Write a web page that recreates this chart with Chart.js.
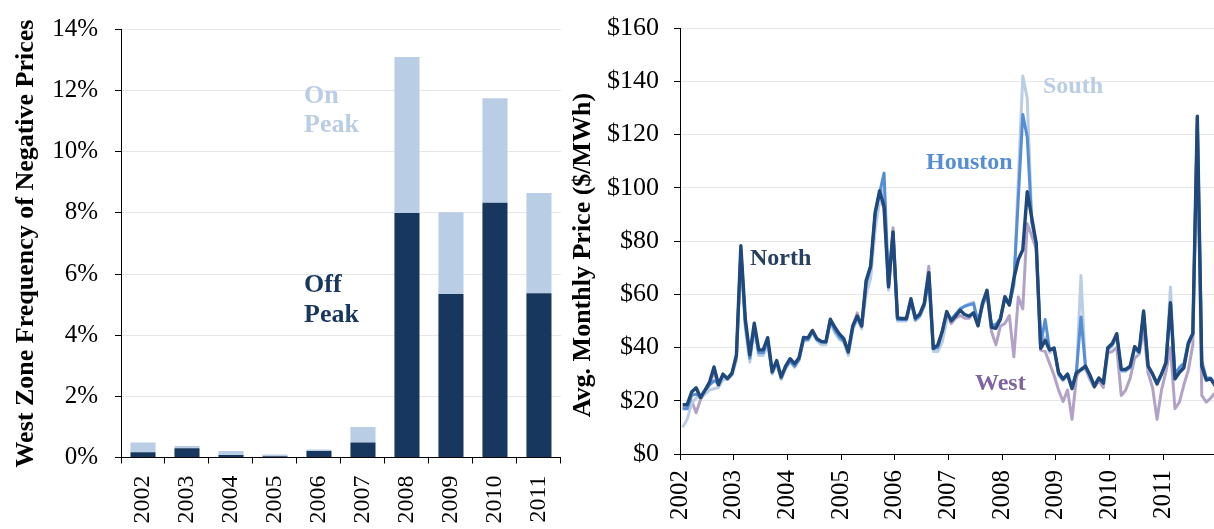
<!DOCTYPE html>
<html lang="en">
<head>
<meta charset="UTF-8">
<title>West Zone Negative Prices and Zonal Monthly Prices</title>
<script src="https://cdn.jsdelivr.net/npm/chart.js"></script>
<style>
    body {
        margin: 0;
        background: #fff;
        width: 1214px;
        height: 529px;
        overflow: hidden;
        position: relative;
    }

    .panel {
        position: absolute;
        top: 0;
        height: 529px;
    }

    #leftPanel { left: 0; width: 580px; }
    #rightPanel { left: 565px; width: 655px; }
</style>
</head>
<body>
<div class="panel" id="leftPanel"><canvas id="negChart"></canvas></div>
<div class="panel" id="rightPanel"><canvas id="priceChart"></canvas></div>

<script>
// Left panel: share of hours with negative prices in the West zone (%)
const barYears = ['2002', '2003', '2004', '2005', '2006', '2007', '2008', '2009', '2010', '2011'];
const offPeak = [0.17, 0.30, 0.08, 0.04, 0.21, 0.49, 8.00, 5.35, 8.33, 5.37];
const onPeak = [0.32, 0.08, 0.13, 0.06, 0.05, 0.51, 5.10, 2.67, 3.42, 3.28];

// Right panel: average monthly price by zone ($/MWh), Jan 2002 - Dec 2011
const priceYears = ['2002', '2003', '2004', '2005', '2006', '2007', '2008', '2009', '2010', '2011'];
const north = [
    18.5, 18.5, 23.3, 24.9, 21.2, 24.0, 27.0, 32.7, 26.0, 30.0, 28.3, 30.2,
    37.1, 78.2, 50.6, 37.3, 49.1, 39.1, 39.1, 43.7, 31.0, 35.1, 29.0, 33.0,
    35.8, 33.9, 36.1, 43.8, 43.6, 46.4, 43.3, 42.3, 42.1, 50.6, 47.6, 45.1,
    43.3, 38.4, 48.1, 51.8, 48.1, 65.2, 70.6, 90.6, 98.8, 93.0, 62.8, 83.4,
    51.1, 50.9, 50.9, 58.3, 51.1, 52.6, 56.6, 68.1, 39.7, 40.9, 46.0, 53.5,
    50.0, 51.8, 54.0, 52.4, 51.8, 53.0, 48.2, 56.7, 61.5, 47.6, 47.2, 50.6,
    59.1, 56.0, 65.8, 73.0, 76.7, 98.5, 88.8, 79.1, 39.7, 42.7, 39.1, 39.7,
    30.6, 28.2, 30.0, 24.6, 30.6, 31.6, 33.0, 29.7, 25.4, 28.5, 26.6, 39.9,
    41.5, 45.2, 31.8, 31.8, 33.0, 40.3, 38.5, 53.7, 33.0, 30.1, 26.4, 30.1,
    34.2, 56.7, 28.2, 30.6, 32.4, 41.5, 45.2, 126.9, 33.0, 27.8, 28.2, 25.7
];
const houston = [
    17.0, 17.0, 22.0, 22.5, 21.5, 24.0, 26.0, 27.5, 26.5, 29.5, 28.5, 30.5,
    36.5, 76.0, 49.0, 36.0, 48.0, 38.0, 38.0, 42.5, 30.5, 34.5, 28.5, 32.5,
    35.0, 33.0, 35.5, 43.0, 43.0, 46.0, 43.0, 42.0, 42.0, 50.0, 46.5, 44.0,
    42.5, 38.0, 47.5, 51.5, 48.0, 64.0, 70.0, 90.0, 98.0, 105.5, 63.0, 83.0,
    50.5, 50.5, 50.5, 57.5, 50.5, 52.0, 56.0, 67.0, 39.5, 40.0, 46.0, 53.0,
    50.5, 52.5, 54.5, 55.5, 56.0, 56.5, 49.5, 56.0, 60.5, 48.5, 48.5, 51.0,
    58.5, 56.0, 64.0, 96.0, 127.5, 119.0, 87.0, 79.0, 41.0, 50.5, 39.0, 40.0,
    30.0, 28.0, 30.0, 25.0, 31.0, 51.5, 33.0, 29.0, 26.0, 28.5, 27.0, 39.5,
    41.0, 44.5, 31.5, 31.5, 32.5, 40.0, 38.0, 53.0, 33.0, 30.0, 26.5, 30.0,
    34.5, 57.0, 30.0, 32.5, 34.0, 42.0, 45.5, 126.0, 35.0, 28.5, 28.5, 26.0
];
const south = [
    10.0, 13.0, 19.0, 21.0, 21.5, 22.5, 24.0, 24.5, 25.0, 28.0, 28.0, 29.5,
    35.0, 74.0, 47.0, 34.5, 46.5, 37.0, 37.0, 41.5, 30.0, 34.0, 28.0, 32.0,
    34.5, 32.5, 35.0, 42.5, 42.5, 45.5, 42.5, 41.0, 41.0, 49.5, 45.5, 43.0,
    42.0, 37.0, 46.5, 50.5, 47.0, 60.0, 66.0, 84.0, 95.0, 100.0, 61.5, 82.0,
    50.0, 50.0, 50.0, 57.0, 50.0, 51.5, 55.5, 66.0, 38.5, 38.5, 42.0, 50.0,
    50.5, 52.5, 54.5, 55.5, 56.5, 57.0, 49.0, 55.5, 60.0, 48.0, 48.5, 51.0,
    58.5, 56.0, 63.0, 103.0, 142.0, 133.5, 88.0, 78.0, 40.0, 44.0, 38.0, 39.5,
    29.5, 27.5, 29.5, 24.5, 30.5, 67.0, 32.5, 28.5, 25.5, 28.0, 26.5, 39.0,
    40.5, 44.0, 31.0, 31.0, 32.5, 39.5, 37.5, 52.5, 32.5, 29.5, 26.0, 29.5,
    34.0, 62.7, 29.0, 31.5, 33.0, 41.0, 44.5, 124.0, 34.0, 28.0, 28.0, 25.5
];
const west = [
    17.5, 17.0, 20.0, 15.5, 20.5, 23.0, 26.0, 31.0, 25.5, 29.5, 28.0, 30.0,
    36.0, 76.5, 49.5, 36.5, 48.0, 38.0, 38.0, 42.5, 30.5, 34.5, 28.5, 32.5,
    35.0, 33.0, 36.0, 43.0, 43.0, 46.0, 43.0, 42.0, 42.0, 50.5, 47.0, 44.5,
    43.0, 38.0, 48.0, 53.0, 48.0, 65.0, 70.0, 89.0, 97.0, 92.0, 63.0, 85.0,
    51.0, 50.5, 50.5, 58.0, 51.0, 52.5, 57.0, 70.5, 39.5, 40.5, 45.0, 52.0,
    49.0, 51.0, 52.0, 51.0, 51.0, 53.0, 48.0, 56.0, 60.5, 46.0, 41.0, 48.0,
    49.0, 52.0, 36.5, 59.0, 54.5, 86.5, 82.0, 77.0, 39.0, 38.5, 34.0, 29.5,
    24.0, 19.7, 24.0, 13.0, 29.0, 32.0, 32.0, 28.0, 25.0, 27.5, 25.0, 38.0,
    38.5, 40.0, 22.0, 24.0, 28.5, 36.0, 37.5, 47.0, 30.5, 25.0, 13.0, 24.0,
    31.0, 40.0, 17.0, 19.5, 26.0, 31.5, 41.0, 122.0, 22.0, 19.5, 21.0, 23.0
];

const SERIF = "'Liberation Serif', 'Times New Roman', serif";
const monthOffset = 0.6; // points sit a little after the start of each month slot

Chart.defaults.font.family = SERIF;
Chart.defaults.color = '#000';

// draws free text (series names, rotated titles) on top of a chart
function textLayer(items) {
    return {
        id: 'textLayer',
        afterDraw(chart) {
            const ctx = chart.ctx;
            items.forEach(item => {
                ctx.save();
                ctx.font = item.font;
                ctx.fillStyle = item.color;
                ctx.textAlign = item.align || 'left';
                ctx.textBaseline = item.baseline || 'alphabetic';
                ctx.translate(item.x, item.y);
                if (item.rotate) ctx.rotate(item.rotate);
                ctx.fillText(item.text, 0, 0);
                ctx.restore();
            });
        }
    };
}

const leftNotes = [
    { text: 'On', x: 304, y: 103, color: '#B9CDE5', font: 'bold 26px ' + SERIF },
    { text: 'Peak', x: 304, y: 132, color: '#B9CDE5', font: 'bold 26px ' + SERIF },
    { text: 'Off', x: 304, y: 292, color: '#17375E', font: 'bold 26px ' + SERIF },
    { text: 'Peak', x: 304, y: 322, color: '#17375E', font: 'bold 26px ' + SERIF }
];

const rightNotes = [
    { text: 'Avg. Monthly Price ($/MWh)', x: 18, y: 255, rotate: -Math.PI / 2, align: 'center', baseline: 'middle', color: '#000', font: 'bold 26px ' + SERIF },
    { text: 'North', x: 185, y: 265, color: '#254061', font: 'bold 24px ' + SERIF },
    { text: 'Houston', x: 361, y: 169, color: '#558ED5', font: 'bold 24px ' + SERIF },
    { text: 'South', x: 478, y: 93, color: '#B9CDE5', font: 'bold 24px ' + SERIF },
    { text: 'West', x: 410, y: 390, color: '#8064A2', font: 'bold 24px ' + SERIF }
];

// Left chart
new Chart(document.getElementById('negChart'), {
    type: 'bar',
    data: {
        labels: barYears,
        datasets: [
            { label: 'Off Peak', data: offPeak, backgroundColor: '#17375E' },
            { label: 'On Peak', data: onPeak, backgroundColor: '#B9CDE5' }
        ]
    },
    options: {
        responsive: true,
        maintainAspectRatio: false,
        animation: false,
        layout: { padding: { top: 16, right: 5, bottom: 0, left: 0 } },
        datasets: { bar: { categoryPercentage: 1, barPercentage: 0.57 } },
        plugins: { legend: { display: false }, tooltip: { enabled: false } },
        scales: {
            x: {
                stacked: true,
                grid: { drawOnChartArea: false, tickLength: 6, tickColor: '#000' },
                border: { color: '#000' },
                ticks: { minRotation: 90, maxRotation: 90, padding: 12, font: { size: 24 }, color: '#000' },
                afterFit: s => { s.height = 71.5; }
            },
            y: {
                stacked: true,
                min: 0,
                max: 14,
                ticks: { stepSize: 2, padding: 17, callback: v => v + '%', font: { size: 25, lineHeight: 1 }, color: '#000' },
                grid: { color: '#e6e6e6', tickLength: 6, tickColor: '#000' },
                border: { color: '#000' },
                title: {
                    display: true,
                    text: 'West Zone Frequency of Negative Prices',
                    font: { size: 26, weight: 'bold' },
                    color: '#000',
                    padding: { top: 10.5, bottom: 0 }
                },
                afterFit: s => { s.width = 121; }
            }
        }
    },
    plugins: [textLayer(leftNotes)]
});

// Right chart
const toPoints = arr => arr.map((v, i) => ({ x: i + monthOffset, y: v }));

new Chart(document.getElementById('priceChart'), {
    type: 'line',
    data: {
        datasets: [
            { label: 'North', data: toPoints(north), borderColor: '#1F497D', borderWidth: 3.4 },
            { label: 'Houston', data: toPoints(houston), borderColor: '#558ED5' },
            { label: 'South', data: toPoints(south), borderColor: '#B9CDE5' },
            { label: 'West', data: toPoints(west), borderColor: '#B3A2C7' }
        ]
    },
    options: {
        responsive: true,
        maintainAspectRatio: false,
        animation: false,
        layout: { padding: { top: 14, right: 3, bottom: 0, left: 0 } },
        elements: {
            point: { radius: 0 },
            line: { borderWidth: 3, tension: 0, borderJoinStyle: 'round' }
        },
        plugins: { legend: { display: false }, tooltip: { enabled: false } },
        scales: {
            x: {
                type: 'linear',
                min: 0,
                max: 120,
                afterBuildTicks: s => { s.ticks = priceYears.map((y, k) => ({ value: k * 12 })); },
                ticks: {
                    autoSkip: false,
                    minRotation: 90,
                    maxRotation: 90,
                    padding: 10,
                    font: { size: 25 },
                    color: '#000',
                    callback: v => priceYears[v / 12]
                },
                grid: { drawOnChartArea: false, tickLength: 6, tickColor: '#000' },
                border: { color: '#000' },
                afterFit: s => { s.height = 75; }
            },
            y: {
                min: 0,
                max: 160,
                ticks: { stepSize: 20, padding: 15, callback: v => '$' + v, font: { size: 26, lineHeight: 1 }, color: '#000' },
                grid: { color: '#e6e6e6', tickLength: 6, tickColor: '#000' },
                border: { color: '#000' },
                afterFit: s => { s.width = 115; }
            }
        }
    },
    plugins: [textLayer(rightNotes)]
});
</script>
</body>
</html>
